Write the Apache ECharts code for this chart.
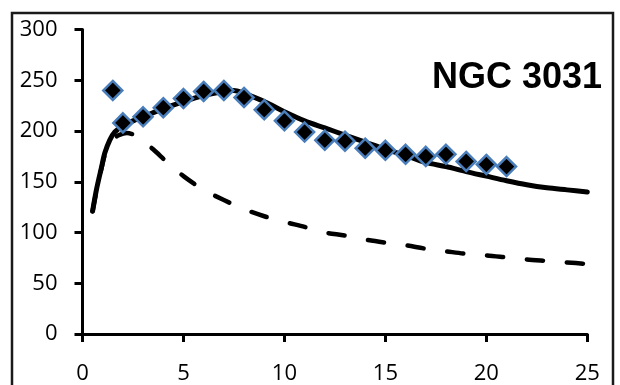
<!DOCTYPE html>
<html>
<head>
<meta charset="utf-8">
<script src="https://cdn.jsdelivr.net/npm/echarts@6/dist/echarts.min.js"></script>
<style>
  html, body { margin: 0; padding: 0; background: #fff; }
  #chart { width: 620px; height: 385px; }
</style>
</head>
<body>
<div id="chart"></div>
<script>
// Observed rotation velocities (kpc, km/s)
const obsRadius = [1.5, 2, 3, 4, 5, 6, 7, 8, 9, 10, 11, 12, 13, 14, 15, 16, 17, 18, 19, 20, 21];
const obsVelocity = [240, 208, 214, 223, 232, 239, 240, 233, 221, 210, 199, 191, 190, 183, 181, 177, 175, 177, 170, 167, 165];

// Model curve (solid)
const modelRadius = [0.5, 0.7, 0.95, 1.1, 1.35, 1.6, 2, 2.5, 3, 4, 5, 6, 7, 7.5, 8, 9, 10, 11, 12, 13, 14, 15, 16, 17, 18, 19, 20, 21, 22, 23, 24, 25];
const modelVelocity = [121, 143, 165, 178, 191, 199, 205, 210, 214, 222, 229, 235, 239, 240, 237, 229, 219, 210, 203, 196, 189, 182, 176, 169, 165, 160, 155.5, 151, 147, 144, 142, 140];

// Keplerian-like component (dashed)
const diskRadius = [0.5, 0.7, 0.95, 1.1, 1.35, 1.6, 1.8, 2.2, 2.7, 3, 3.5, 4.2, 5, 6, 7, 8, 9, 10, 11, 12, 13, 14, 15, 16, 17, 18, 19, 20, 21, 22, 23, 24, 25];
const diskVelocity = [121, 142, 164, 176, 187, 193, 196, 198, 195, 190, 182, 169, 155.5, 142, 132, 123, 116, 110.5, 105.5, 100, 97, 93, 90, 87.5, 84, 81.5, 79, 77.5, 75.5, 73.5, 72, 70.5, 69];

const xTicks = [0, 5, 10, 15, 20, 25];
const yTicks = [0, 50, 100, 150, 200, 250, 300];

const zip = (xs, ys) => xs.map((x, i) => [x, ys[i]]);

const labelFont = { color: '#000', fontFamily: '"Open Sans", sans-serif', fontSize: 22 };

const chart = echarts.init(document.getElementById('chart'), null, { renderer: 'canvas' });
chart.setOption({
  animation: false,
  backgroundColor: '#fff',
  grid: { left: 82.5, right: 32.7, top: 29.5, bottom: 49.5 },
  xAxis: {
    type: 'value',
    min: xTicks[0], max: xTicks[xTicks.length - 1], interval: 5,
    splitLine: { show: false },
    axisLine: { show: true, onZero: false, lineStyle: { color: '#000', width: 3 } },
    axisTick: { show: true, length: 8, lineStyle: { color: '#000', width: 3 } },
    axisLabel: Object.assign({ margin: 29 }, labelFont)
  },
  yAxis: {
    type: 'value',
    min: yTicks[0], max: yTicks[yTicks.length - 1], interval: 50,
    splitLine: { show: false },
    axisLine: { show: true, lineStyle: { color: '#000', width: 3 } },
    axisTick: { show: true, length: 8, lineStyle: { color: '#000', width: 3 } },
    axisLabel: Object.assign({ margin: 25 }, labelFont)
  },
  graphic: [
    {
      type: 'rect', z: -1, silent: true,
      shape: { x: 12, y: 13, width: 601, height: 420 },
      style: { fill: 'none', stroke: '#1a1a1a', lineWidth: 2.5 }
    },
    {
      type: 'text', z: 10, silent: true,
      style: {
        text: 'NGC 3031', x: 602, y: 78,
        align: 'right', verticalAlign: 'middle',
        font: 'bold 36px "Liberation Sans", Arial, sans-serif', fill: '#000'
      }
    }
  ],
  series: [
    {
      type: 'line', data: zip(diskRadius, diskVelocity),
      smooth: 0.3, symbol: 'none', z: 2,
      lineStyle: { color: '#000', width: 4.5, type: [16, 24], cap: 'round', join: 'round' }
    },
    {
      type: 'line', data: zip(modelRadius, modelVelocity),
      smooth: 0.3, symbol: 'none', z: 3,
      lineStyle: { color: '#000', width: 5, cap: 'round', join: 'round' }
    },
    {
      type: 'scatter', data: zip(obsRadius, obsVelocity),
      symbol: 'diamond', symbolSize: 19, z: 4,
      itemStyle: { color: '#000', borderColor: '#4a7ebb', borderWidth: 2.5, opacity: 1 }
    }
  ]
});
</script>
</body>
</html>
